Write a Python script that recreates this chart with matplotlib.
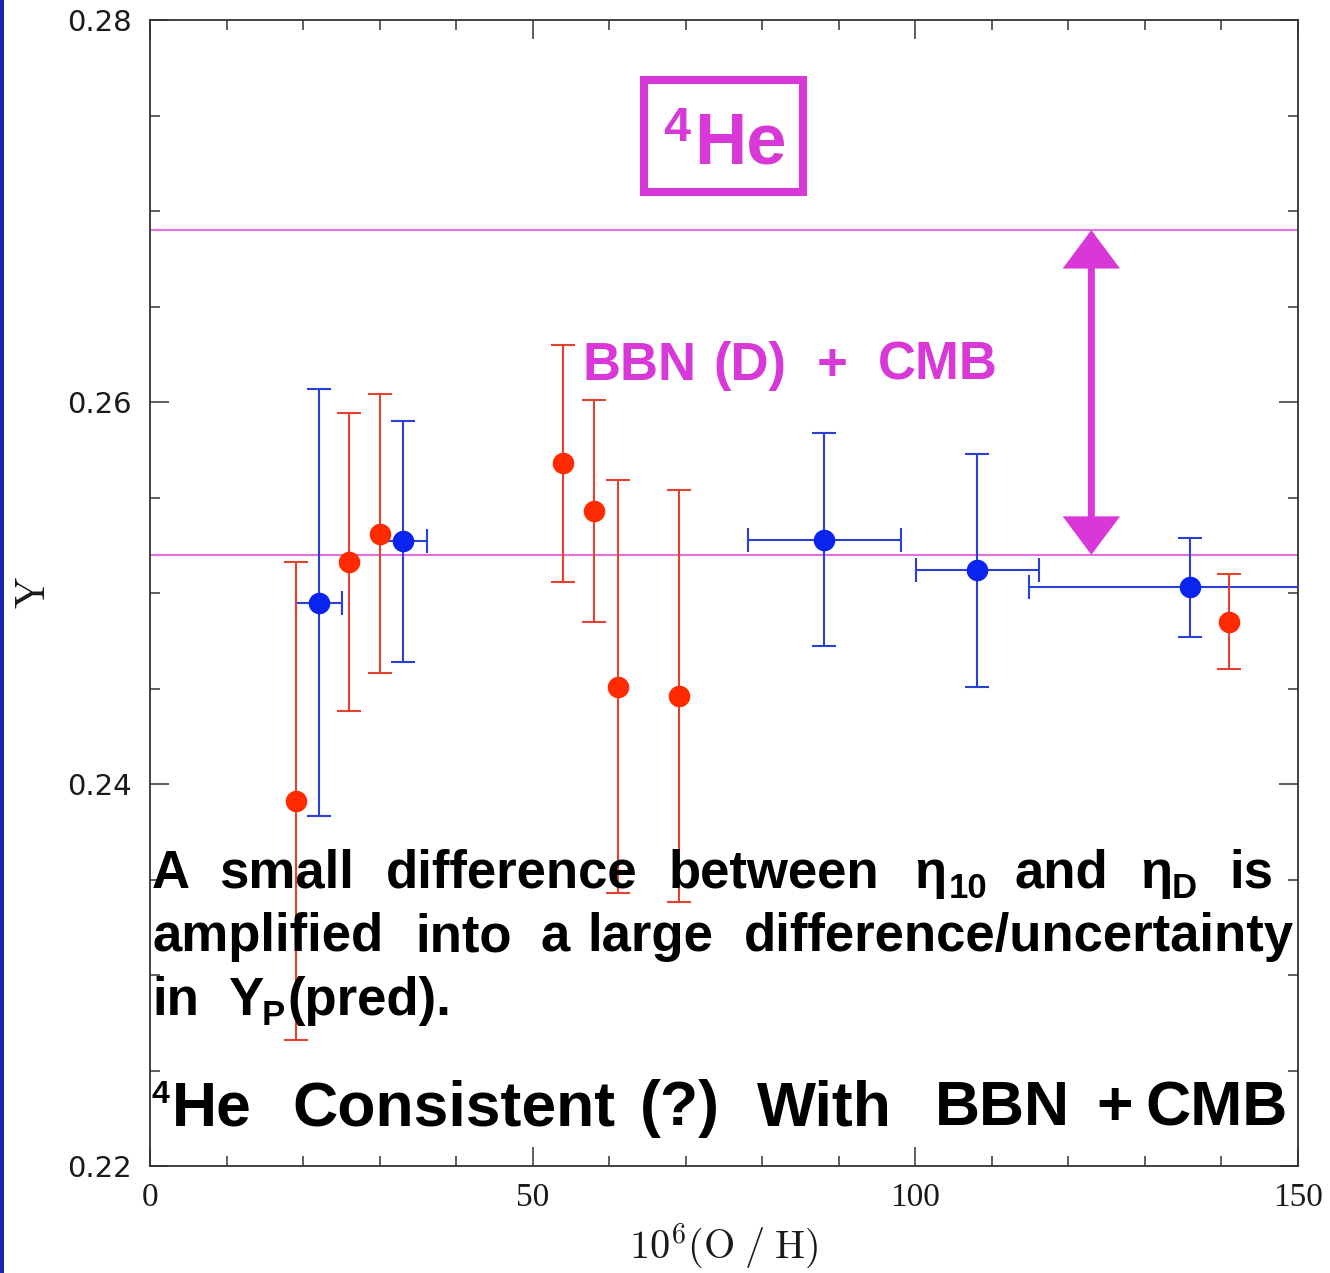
import matplotlib
matplotlib.use("Agg")
import matplotlib.pyplot as plt
from matplotlib.patches import Rectangle
from matplotlib.ticker import MultipleLocator, FixedLocator

plt.rcParams["mathtext.fontset"] = "cm"

# ---------------- data ----------------
red_x = [19.1, 26.0, 30.05, 54.0, 58.0, 61.2, 69.1, 141.0]
red_y = [0.2391, 0.2516, 0.2531, 0.2568, 0.2543, 0.2451, 0.2446, 0.2485]
red_yerr = [0.0125, 0.0078, 0.0073, 0.0062, 0.0058, 0.0108, 0.0108, 0.0025]

blue_x = [22.1, 33.1, 88.1, 108.1, 135.9]
blue_y = [0.2495, 0.2527, 0.2528, 0.2512, 0.2503]
blue_yerr = [0.0112, 0.0063, 0.0056, 0.0061, 0.0026]
blue_xerr = [3.0, 3.1, 10.0, 8.0, 21.0]

bbn_lines = [0.2690, 0.2520]          # BBN(D)+CMB prediction band edges
arrow_x = 123.0

x_ticks_major = [0, 50, 100, 150]
y_ticks_major = [0.22, 0.24, 0.26, 0.28]
y_tick_labels = ["0.22", "0.24", "0.26", "0.28"]

# ---------------- figure ----------------
W, H = 1330, 1273
fig = plt.figure(figsize=(W / 100, H / 100), dpi=100)
ax = fig.add_axes([150 / W, 1 - 1166 / H, (1298 - 150) / W, (1166 - 20) / H])

MAG = "#d838d8"
MAG_LINE = "#e070e0"
RED = "#ff2a00"
RED_E = "#e8402e"
BLUE = "#0a24f0"
BLUE_E = "#2a3ed8"

for yv in bbn_lines:
    ax.axhline(yv, color=MAG_LINE, lw=1.5, zorder=1)

ax.errorbar(blue_x, blue_y, yerr=blue_yerr, xerr=blue_xerr, fmt="o", ms=14.5,
            color=BLUE, ecolor=BLUE_E, elinewidth=1.5, capsize=8.5, capthick=1.5,
            mec=BLUE, zorder=3)
ax.errorbar(red_x, red_y, yerr=red_yerr, fmt="o", ms=14.5,
            color=RED, ecolor=RED_E, elinewidth=1.5, capsize=8.5, capthick=1.5,
            mec=RED, zorder=4)

ax.annotate("", xy=(arrow_x, bbn_lines[0]), xytext=(arrow_x, bbn_lines[1]),
            arrowprops=dict(arrowstyle="<|-|>,head_length=1.5,head_width=1.12",
                            mutation_scale=14, lw=5, color=MAG,
                            shrinkA=0, shrinkB=0, joinstyle="miter"),
            zorder=5)

ax.set_xlim(0, 150)
ax.set_ylim(0.22, 0.28)
ax.xaxis.set_major_locator(FixedLocator(x_ticks_major))
ax.xaxis.set_minor_locator(MultipleLocator(10))
ax.yaxis.set_major_locator(FixedLocator(y_ticks_major))
ax.yaxis.set_minor_locator(MultipleLocator(0.005))
ax.set_yticklabels(y_tick_labels)
ax.tick_params(which="both", direction="in", top=True, right=True,
               color="#333333", width=1.1)
ax.tick_params(which="major", length=14)
ax.tick_params(which="minor", length=7)
ax.tick_params(axis="x", which="major", labelsize=24, pad=12, labelcolor="#1a1a1a")
ax.tick_params(axis="y", which="major", labelsize=21, pad=13, labelcolor="#1a1a1a")
for lab in ax.get_xticklabels():
    lab.set_fontfamily("Liberation Serif")
for lab in ax.get_yticklabels():
    lab.set_fontfamily("DejaVu Sans")
for s in ax.spines.values():
    s.set_color("#333333")
    s.set_linewidth(1.3)

ax.set_xlabel(r"$10^6(\mathrm{O}\;/\;\mathrm{H})$", fontsize=29, labelpad=6,
              color="#1a1a1a", math_fontfamily="cm")
ax.set_ylabel(r"$\mathrm{Y}$", fontsize=30, color="#1a1a1a", math_fontfamily="cm")
ax.yaxis.label.set_va("center")
ax.yaxis.set_label_coords((33 - 150) / (1298 - 150), 0.5)

# ---------------- annotations ----------------
def px(x, y):
    return x / W, 1 - y / H

SANS = "Liberation Sans"

def word(x, y, s, size, color="black"):
    fig.text(*px(x, y), s, fontsize=size, fontweight="bold", family=SANS,
             color=color, ha="left", va="baseline")

# boxed 4He
fig.patches.append(Rectangle(px(643.5, 192), (803 - 643.5) / W, (192 - 80) / H,
                             transform=fig.transFigure, fill=False,
                             edgecolor=MAG, lw=5.8, joinstyle="miter"))
word(663, 141, "4", 35, MAG)
word(694, 163, "He", 52, MAG)

# BBN (D) + CMB
for xx, s in [(583, "BBN"), (713, "(D)"), (817, "+"), (878, "CMB")]:
    word(xx, 380, s, 38, MAG)

# line 1
FS = 38
SUB = 25
for xx, s in [(152, "A"), (219, "small"), (386, "difference"), (669, "between"),
              (914, "η"), (1014, "and"), (1140, "η"), (1229, "is")]:
    word(xx, 888, s, FS)
word(949, 898, "10", SUB)
word(1172, 898, "D", SUB)

# line 2
for xx, s in [(152, "amplified"), (415, "into"), (541, "a"), (587, "large"),
              (744, "difference/uncertainty")]:
    word(xx, 951, s, FS)

# line 3
word(152, 1015, "in", FS)
word(228, 1015, "Y", FS)
word(262, 1025, "P", SUB)
word(287, 1015, "(pred).", FS)

# line 4
word(152, 1103, "4", 23)
for xx, s in [(172, "He"), (292, "Consistent"), (640, "(?)"), (757, "With"),
              (935, "BBN"), (1096, "+"), (1145, "CMB")]:
    word(xx, 1125, s, 45)

# slide frame on left edge
fig.patches.append(Rectangle((0, 0), 4 / W, 1, transform=fig.transFigure,
                             facecolor="#1428b4", edgecolor="none"))

fig.savefig("out.png", dpi=100)
